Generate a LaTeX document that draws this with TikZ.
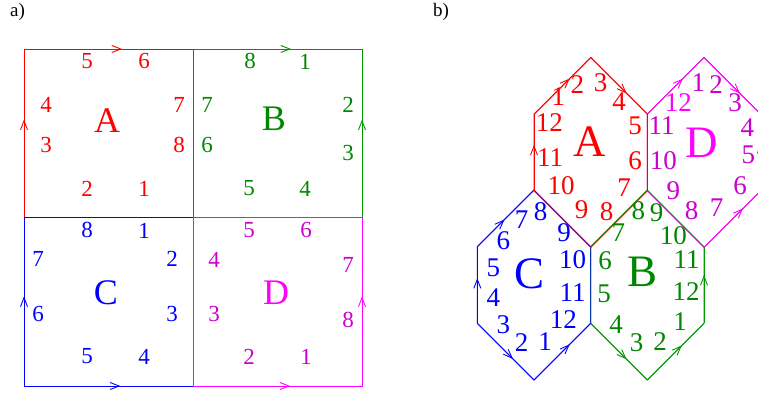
\documentclass[tikz,border=0pt]{standalone}
\usepackage{fontspec}
\setmainfont{Liberation Serif}
\usepackage{xcolor}
\usepackage{tikz}
\usetikzlibrary{arrows.meta,decorations.markings}

\definecolor{cgreen}{RGB}{0,150,0}
\definecolor{cgreentxt}{RGB}{0,135,0}
\definecolor{cmag}{RGB}{255,0,255}
\definecolor{cmagtxt}{RGB}{204,0,204}

\begin{document}
\begin{tikzpicture}[
  x=1pt, y=-1pt,
  edge/.style={line width=0.9pt},
  arr/.style={edge,postaction={decorate},decoration={markings,
    mark=at position #1 with {\arrow{Straight Barb[length=9pt,width=7pt,line width=0.9pt]}}}},
  num/.style={inner sep=0pt,font=\fontsize{23}{23}\selectfont},
  big/.style={inner sep=0pt,font=\fontsize{36}{36}\selectfont},
  hnum/.style={inner sep=0pt,font=\fontsize{27}{27}\selectfont},
  hbig/.style={inner sep=0pt,font=\fontsize{45}{45}\selectfont},
  partlab/.style={inner sep=0pt,anchor=base west,font=\fontsize{19}{19}\selectfont}
]
\useasboundingbox (0,0) rectangle (758,392);
\clip (0,0) rectangle (758,392);
\def\hx{56.7}
\def\hy{38.3}
\def\ht{95}

\node[partlab] (parta) at (10,16) {a)};
\node[partlab] (partb) at (433,16) {b)};

% a) four squares
\draw[edge,red] (24,49) rectangle (193,217);
\draw[edge,cgreen] (193,49) rectangle (362,217);
\draw[edge,blue] (24,217) rectangle (193,386);
\draw[edge,cmag] (193,217) rectangle (362,386);
\draw[arr=0.58,red] (24,49) -- (193,49);
\draw[arr=0.58,red] (24,217) -- (24,49);
\draw[arr=0.58,cgreen] (193,49) -- (362,49);
\draw[arr=0.58,cgreen] (362,217) -- (362,49);
\draw[arr=0.53,blue] (24,386) -- (24,217);
\draw[arr=0.57,blue] (24,386) -- (193,386);
\draw[arr=0.575,cmag] (193,386) -- (362,386);
\draw[arr=0.53,cmag] (362,386) -- (362,217);

\foreach \n/\x/\y in {5/87/69,6/144/69,4/46/112,7/179/112,3/46/153,8/179/153,2/87/196,1/144/196}
  \node[num,red] (sqA\n) at (\x,\y) {\n};
\foreach \n/\x/\y in {8/250/69,1/305/69,7/207/112,2/348/112,6/207/153,3/348/161,5/249/196,4/305/196}
  \node[num,cgreentxt] (sqB\n) at (\x,\y) {\n};
\foreach \n/\x/\y in {8/87/238,1/144/238,7/38/266,2/172/266,6/38/322,3/172/322,5/87/364,4/144/364}
  \node[num,blue] (sqC\n) at (\x,\y) {\n};
\foreach \n/\x/\y in {5/249/238,6/306/238,4/214/267,7/348/272,3/214/322,8/348/328,2/249/364,1/306/364}
  \node[num,cmagtxt] (sqD\n) at (\x,\y) {\n};
\node[big,red] (sqA) at (107,132) {A};
\node[big,cgreentxt] (sqB) at (274,131) {B};
\node[big,blue] (sqC) at (106,305) {C};
\node[big,cmag] (sqD) at (276,305) {D};

% b) four hexagons
\begin{scope}[shift={(704,152.5)},cmag]
  \draw[edge] (0,-\ht) -- (\hx,-\hy) -- (\hx,\hy) -- (0,\ht) -- (-\hx,\hy) -- (-\hx,-\hy) -- cycle;
  \draw[arr=0.63] (-\hx,-\hy) -- (0,-\ht);
  \draw[arr=0.635] (0,-\ht) -- (\hx,-\hy);
  \draw[arr=0.62] (\hx,\hy) -- (\hx,-\hy);
  \draw[arr=0.69] (0,\ht) -- (\hx,\hy);
\end{scope}
\begin{scope}[shift={(647.3,285)},cgreen]
  \draw[edge] (0,-\ht) -- (\hx,-\hy) -- (\hx,\hy) -- (0,\ht) -- (-\hx,\hy) -- (-\hx,-\hy) -- cycle;
  \draw[arr=0.635] (-\hx,\hy) -- (0,\ht);
  \draw[arr=0.61] (0,\ht) -- (\hx,\hy);
  \draw[arr=0.63] (\hx,\hy) -- (\hx,-\hy);
\end{scope}
\begin{scope}[shift={(534,285)},blue]
  \draw[edge] (0,-\ht) -- (\hx,-\hy) -- (\hx,\hy) -- (0,\ht) -- (-\hx,\hy) -- (-\hx,-\hy) -- cycle;
  \draw[arr=0.48] (-\hx,-\hy) -- (0,-\ht);
  \draw[arr=0.59] (-\hx,\hy) -- (-\hx,-\hy);
  \draw[arr=0.63] (-\hx,\hy) -- (0,\ht);
  \draw[arr=0.63] (0,\ht) -- (\hx,\hy);
\end{scope}
\begin{scope}[shift={(590.7,152.5)},red]
  \draw[edge] (0,-\ht) -- (\hx,-\hy) -- (\hx,\hy) -- (0,\ht) -- (-\hx,\hy) -- (-\hx,-\hy) -- cycle;
  \draw[arr=0.6] (-\hx,\hy) -- (-\hx,-\hy);
  \draw[arr=0.63] (-\hx,-\hy) -- (0,-\ht);
  \draw[arr=0.635] (0,-\ht) -- (\hx,-\hy);
\end{scope}

\foreach \n/\x/\y in {1/558.3/105,2/577.3/93.3,3/600.7/91.7,4/619/110,5/635/135,6/635/169.3,
    7/624/196.7,8/606.7/220.7,9/581.7/218.3,10/561/195,11/550/166.7,12/549.3/131.7}
  \node[hnum,red] (hxA\n) at (\x,\y) {\n};
\foreach \n/\x/\y in {1/698.3/91.7,2/716/93.3,3/735/111.7,4/747.3/136,5/748.3/163.3,6/740/195,
    7/716.7/216.7,8/691.7/219.3,9/673.3/200,10/663.3/170,11/661.7/134}
  \node[hnum,cmagtxt] (hxD\n) at (\x,\y) {\n};
\node[hnum,cmag] (hxD12) at (678.3,111.7) {12};
\foreach \n/\x/\y in {8/540.7/220.7,7/521.7/228.3,6/503.3/249.3,5/493.3/276.7,4/493.3/306,3/503.3/333.3,
    2/521.7/351.7,1/545/350,12/563.3/328.3,11/572.7/301.7,10/572.7/268.3,9/564/241.7}
  \node[hnum,blue] (hxC\n) at (\x,\y) {\n};
\foreach \n/\x/\y in {8/638.3/219.3,9/656.7/221.7,7/618.3/241.7,10/673.3/245,6/605/270,11/686.7/268.3,
    5/604/302.7,12/686/300.7,4/616/333.3,1/680/330,3/636.7/351.7,2/660/350}
  \node[hnum,cgreentxt] (hxB\n) at (\x,\y) {\n};
\node[hbig,red] (hxA) at (590,156.7) {A};
\node[hbig,cmag] (hxD) at (701.7,157.3) {D};
\node[hbig,blue] (hxC) at (530,288.3) {C};
\node[hbig,cgreentxt] (hxB) at (642.7,286.7) {B};
\end{tikzpicture}
\end{document}
